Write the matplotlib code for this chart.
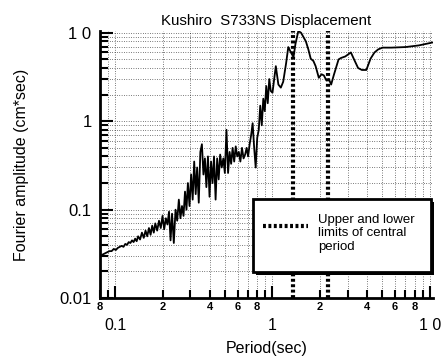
import matplotlib
matplotlib.use('Agg')
import matplotlib.pyplot as plt
from matplotlib.patches import Rectangle
from matplotlib.ticker import LogLocator, FixedLocator, FixedFormatter, FuncFormatter, NullFormatter
import numpy as np

plt.rcParams['font.family'] = ['Liberation Sans', 'DejaVu Sans']

# Fourier amplitude spectrum, Kushiro S733NS displacement
period = [
    0.080, 0.083, 0.086, 0.089, 0.092, 0.095, 0.098, 0.101, 0.104, 0.107,
    0.110, 0.113, 0.116, 0.119, 0.122, 0.125, 0.128, 0.131, 0.134, 0.137,
    0.140, 0.144, 0.148, 0.152, 0.156, 0.160, 0.164, 0.168, 0.172, 0.176,
    0.180, 0.185, 0.190, 0.195, 0.200, 0.205, 0.210, 0.215, 0.220, 0.225,
    0.230, 0.236, 0.242, 0.248, 0.254, 0.260, 0.266, 0.272, 0.278, 0.284,
    0.290, 0.297, 0.304, 0.311, 0.318, 0.325, 0.332, 0.340, 0.348, 0.356,
    0.364, 0.372, 0.380, 0.389, 0.398, 0.407, 0.416, 0.425, 0.435, 0.445,
    0.455, 0.465, 0.476, 0.487, 0.498, 0.510, 0.522, 0.534, 0.546, 0.558,
    0.571, 0.584, 0.597, 0.611, 0.625, 0.640, 0.655, 0.670, 0.685, 0.700,
    0.716, 0.732, 0.748, 0.765, 0.782, 0.800, 0.818, 0.836, 0.855, 0.874,
    0.893, 0.913, 0.933, 0.954, 0.975,
    1.00, 1.05, 1.09, 1.13, 1.17, 1.22, 1.26, 1.31, 1.36, 1.40,
    1.46, 1.52, 1.57, 1.63, 1.69, 1.75, 1.82, 1.88, 1.97, 2.05,
    2.12, 2.20, 2.28, 2.36, 2.45, 2.53, 2.63, 2.73, 2.90, 3.15,
    3.30, 3.50, 3.70, 3.95, 4.20, 4.45, 4.70, 5.00, 5.70, 7.00,
    8.50, 9.50, 10.5,
]
amplitude = [
    0.030, 0.031, 0.032, 0.033, 0.034, 0.034, 0.036, 0.035, 0.037, 0.038,
    0.039, 0.038, 0.041, 0.040, 0.043, 0.042, 0.045, 0.043, 0.047, 0.044,
    0.050, 0.046, 0.055, 0.048, 0.058, 0.050, 0.062, 0.052, 0.066, 0.055,
    0.070, 0.058, 0.075, 0.062, 0.085, 0.060, 0.080, 0.068, 0.095, 0.045,
    0.090, 0.042, 0.100, 0.075, 0.130, 0.080, 0.110, 0.085, 0.160, 0.100,
    0.200, 0.110, 0.250, 0.130, 0.350, 0.150, 0.300, 0.120, 0.450, 0.550,
    0.250, 0.380, 0.180, 0.400, 0.140, 0.350, 0.200, 0.400, 0.130, 0.380,
    0.220, 0.420, 0.300, 0.380, 0.260, 0.800, 0.260, 0.450, 0.330, 0.500,
    0.350, 0.520, 0.400, 0.450, 0.350, 0.500, 0.380, 0.420, 0.500, 0.400,
    0.550, 0.700, 0.950, 0.500, 0.300, 0.650, 0.800, 1.500, 0.900, 1.800,
    1.300, 2.500, 1.600, 3.000, 2.200,
    2.1, 4.2, 2.6, 2.4, 2.8, 4.5, 6.9, 6.0, 5.3, 7.5,
    10.5, 10.0, 9.0, 8.0, 6.5, 5.1, 4.8, 4.2, 3.1, 3.4,
    3.3, 2.9, 3.0, 2.6, 3.3, 4.0, 5.0, 5.2, 5.4, 6.0,
    5.0, 4.0, 3.8, 3.8, 5.1, 6.0, 6.5, 6.8, 6.8, 6.9,
    7.2, 7.5, 7.8,
]

# limits of the central period band (sec)
central_limits = [1.36, 2.25]

x_major = [0.1, 1, 10]
x_major_labels = ['0.1', '1', '1 0']
y_major = [0.01, 0.1, 1, 10]
y_major_labels = ['0.01', '0.1', '1', '1 0']
legend_text = 'Upper and lower\nlimits of central\nperiod'

DASH = (0, (0.7, 0.6))

fig = plt.figure(figsize=(4.42, 3.64), dpi=100)
ax = fig.add_axes([0.226, 0.181, 0.754, 0.734])

ax.set_xscale('log')
ax.set_yscale('log')
ax.set_xlim(0.08, 10.5)
ax.set_ylim(0.01, 10.5)

# dotted grid under everything
ax.grid(which='both', color='black', linestyle=(0, (1, 2.4)), linewidth=0.5)
ax.set_axisbelow(True)

ax.plot(period, amplitude, color='black', linewidth=1.3, zorder=3)

for t in central_limits:
    ax.axvline(t, color='black', linewidth=3.0, linestyle=DASH, zorder=4)


def minor_x_label(v, pos):
    # only 2, 4, 6, 8 (and the 0.08 at the left edge) get a digit
    d = int(round(v / 10 ** np.floor(np.log10(v) + 1e-9)))
    return str(d) if d in (2, 4, 6, 8) else ''


ax.xaxis.set_major_locator(FixedLocator(x_major))
ax.xaxis.set_major_formatter(FixedFormatter(x_major_labels))
ax.xaxis.set_minor_locator(LogLocator(base=10, subs=np.arange(2, 10)))
ax.xaxis.set_minor_formatter(FuncFormatter(minor_x_label))
ax.yaxis.set_major_locator(FixedLocator(y_major))
ax.yaxis.set_major_formatter(FixedFormatter(y_major_labels))
ax.yaxis.set_minor_locator(LogLocator(base=10, subs=np.arange(2, 10)))
ax.yaxis.set_minor_formatter(NullFormatter())

ax.tick_params(which='both', direction='in', top=False, right=False, width=1.5)
ax.tick_params(axis='x', which='major', length=9, pad=14, labelsize=11.5)
ax.tick_params(axis='x', which='minor', length=6, pad=3, labelsize=8)
ax.tick_params(axis='y', which='major', length=9, pad=6, labelsize=12)
ax.tick_params(axis='y', which='minor', length=6)
for lbl in ax.xaxis.get_minorticklabels():
    lbl.set_fontweight('bold')

for side in ['left', 'bottom']:
    ax.spines[side].set_linewidth(2)
for side in ['top', 'right']:
    ax.spines[side].set_visible(False)

ax.set_title('Kushiro  S733NS Displacement', fontsize=10.8, pad=4)
ax.set_xlabel('Period(sec)', fontsize=11.5, labelpad=6)
ax.set_ylabel('Fourier amplitude (cm*sec)', fontsize=11.5, labelpad=22)

# boxed key with a solid drop shadow
bx, by, bw, bh = 0.459, 0.097, 0.535, 0.274
ax.add_patch(Rectangle((bx + 0.009, by - 0.012), bw, bh, transform=ax.transAxes,
                       facecolor='black', edgecolor='none', zorder=5, clip_on=False))
ax.add_patch(Rectangle((bx, by), bw, bh, transform=ax.transAxes,
                       facecolor='white', edgecolor='black', linewidth=2,
                       zorder=6, clip_on=False))
ax.plot([0.489, 0.625], [0.270, 0.270], transform=ax.transAxes, color='black',
        linewidth=3.0, linestyle=DASH, zorder=7)
ax.text(0.655, 0.315, legend_text, transform=ax.transAxes, fontsize=9.5,
        va='top', ha='left', linespacing=1.15, zorder=7)

fig.savefig('out.png', dpi=100)
